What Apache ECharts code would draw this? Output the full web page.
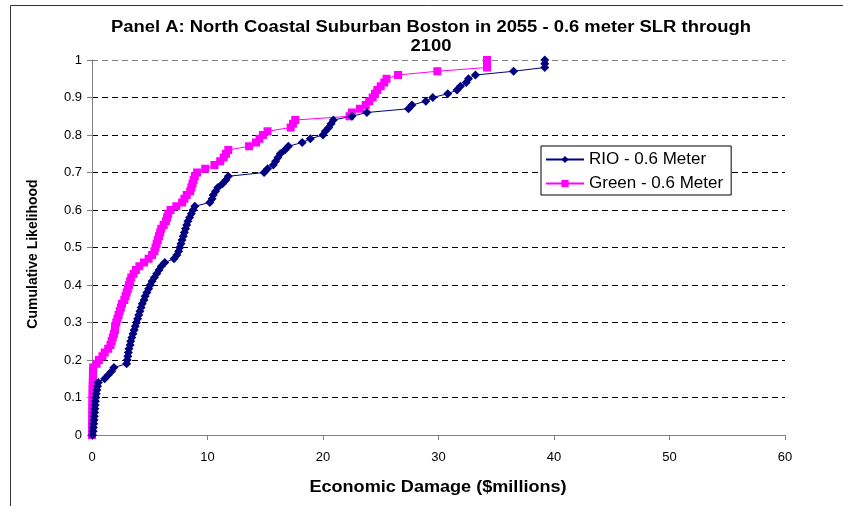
<!DOCTYPE html>
<html>
<head>
<meta charset="utf-8">
<script src="https://cdn.jsdelivr.net/npm/echarts@6/dist/echarts.min.js"></script>
<style>
html,body{margin:0;padding:0;background:#fff;}
#chart{width:843px;height:506px;}
</style>
</head>
<body>
<div id="chart"></div>
<script>
// Cumulative likelihood levels (shared by both series)
var likelihood = [0.00,0.01,0.02,0.03,0.04,0.05,0.06,0.07,0.08,0.09,
  0.10,0.11,0.12,0.13,0.14,0.15,0.16,0.17,0.18,0.19,
  0.20,0.21,0.22,0.23,0.24,0.25,0.26,0.27,0.28,0.29,
  0.30,0.31,0.32,0.33,0.34,0.35,0.36,0.37,0.38,0.39,
  0.40,0.41,0.42,0.43,0.44,0.45,0.46,0.47,0.48,0.49,
  0.50,0.51,0.52,0.53,0.54,0.55,0.56,0.57,0.58,0.59,
  0.60,0.61,0.62,0.63,0.64,0.65,0.66,0.67,0.68,0.69,
  0.70,0.71,0.72,0.73,0.74,0.75,0.76,0.77,0.78,0.79,
  0.80,0.81,0.82,0.83,0.84,0.85,0.86,0.87,0.88,0.89,
  0.90,0.91,0.92,0.93,0.94,0.95,0.96,0.97,0.98,0.99,1.00];

// Economic damage ($millions), RIO - 0.6 Meter
var rioDamage = [0.05,0.1,0.12,0.15,0.18,0.2,0.22,0.25,0.27,0.3,
  0.33,0.37,0.42,0.48,0.55,1.1,1.4,1.7,1.9,3.0,
  3.05,3.1,3.15,3.2,3.3,3.35,3.45,3.55,3.65,3.75,
  3.85,3.95,4.05,4.15,4.25,4.35,4.5,4.6,4.75,4.9,
  5.05,5.2,5.4,5.6,5.8,6.0,6.3,7.1,7.35,7.5,
  7.6,7.7,7.8,7.9,8.0,8.1,8.2,8.3,8.45,8.6,
  8.75,8.9,10.2,10.4,10.5,10.7,10.9,11.3,11.6,11.8,
  14.9,15.2,15.7,15.9,16.1,16.3,16.7,17.0,18.2,18.9,
  20.0,20.2,20.5,20.7,20.9,22.5,23.8,27.4,27.7,28.9,
  29.5,30.8,31.6,31.9,32.4,32.6,33.2,36.5,39.2,39.2,39.2];

// Economic damage ($millions), Green - 0.6 Meter
var greenDamage = [0.0,0.0,0.01,0.01,0.02,0.02,0.03,0.03,0.04,0.04,
  0.05,0.05,0.06,0.06,0.07,0.08,0.08,0.09,0.1,0.4,
  0.6,0.9,1.1,1.4,1.6,1.7,1.8,1.9,2.0,2.0,
  2.1,2.2,2.3,2.4,2.5,2.6,2.8,2.9,3.0,3.1,
  3.2,3.3,3.4,3.6,3.8,4.1,4.5,4.9,5.2,5.4,
  5.5,5.6,5.7,5.8,5.9,6.0,6.2,6.4,6.5,6.6,
  6.8,7.3,7.8,8.0,8.2,8.5,8.6,8.7,8.8,8.9,
  9.1,9.8,10.6,11.1,11.4,11.6,11.8,13.6,14.2,14.5,
  14.8,15.2,17.2,17.4,17.6,22.3,22.5,23.2,23.7,24.0,
  24.3,24.5,24.7,25.0,25.3,25.5,26.5,29.9,34.2,34.2,34.2];

var seriesNames = ['RIO - 0.6 Meter', 'Green - 0.6 Meter'];
var titleLines = ['Panel A: North Coastal Suburban Boston in 2055 - 0.6 meter SLR through', '2100'];
var xAxisTitle = 'Economic Damage ($millions)';
var yAxisTitle = 'Cumulative Likelihood';

function pairs(xs, ys) {
  var out = [];
  for (var i = 0; i < xs.length; i++) out.push([xs[i], ys[i]]);
  return out;
}

var FONT = '"Liberation Sans", Arial, sans-serif';
var chart = echarts.init(document.getElementById('chart'), null, {renderer: 'canvas'});
var gridColors = ['#000','#000','#000','#000','#000','#000','#000','#000','#000','#000','#808080'];

function label(text, x, y, size, sx, rot) {
  return {
    type: 'text', x: x, y: y, scaleX: sx, rotation: rot || 0, z: 10,
    style: {
      text: text, font: 'bold ' + size + 'px ' + FONT, fill: '#000',
      textAlign: 'center', textVerticalAlign: 'middle'
    }
  };
}

chart.setOption({
  animation: false,
  backgroundColor: '#fff',
  graphic: [{
    type: 'rect', left: 8, top: 3, z: -1,
    shape: {width: 900, height: 600},
    style: {fill: 'none', stroke: '#333', lineWidth: 1}
  },
  label(titleLines[0], 431, 28, 16, 1.15),
  label(titleLines[1], 431, 47, 16, 1.15),
  label(xAxisTitle, 438, 488, 16, 1.13),
  label(yAxisTitle, 33, 254, 14, 1, Math.PI / 2)
  ],
  grid: {left: 92, right: 58, top: 60, bottom: 71, containLabel: false},
  legend: {
    left: 541, top: 146, orient: 'vertical',
    data: seriesNames,
    borderColor: '#000', borderWidth: 1, backgroundColor: '#fff',
    padding: [5, 8, 3, 4], itemGap: 7,
    itemWidth: 38, itemHeight: 9,
    textStyle: {fontFamily: FONT, fontSize: 17, color: '#000'}
  },
  xAxis: {
    type: 'value', min: 0, max: 60, interval: 10,
    axisLine: {lineStyle: {color: '#808080', width: 1}},
    axisTick: {show: true, length: 5, lineStyle: {color: '#808080'}},
    axisLabel: {fontFamily: FONT, fontSize: 13, color: '#000', margin: 16},
    splitLine: {show: false}
  },
  yAxis: {
    type: 'value', min: 0, max: 1, interval: 0.1,
    axisLine: {show: true, lineStyle: {color: '#808080', width: 1}},
    axisTick: {show: true, length: 5, lineStyle: {color: '#808080'}},
    axisLabel: {fontFamily: FONT, fontSize: 13, color: '#000', margin: 10},
    splitLine: {show: true, lineStyle: {color: gridColors, type: [6, 4], width: 1}}
  },
  series: [{
    name: seriesNames[0], type: 'line',
    data: pairs(rioDamage, likelihood),
    symbol: 'diamond', symbolSize: 9,
    itemStyle: {color: '#000080'},
    lineStyle: {color: '#000080', width: 1},
    z: 3
  }, {
    name: seriesNames[1], type: 'line',
    data: pairs(greenDamage, likelihood),
    symbol: 'rect', symbolSize: 8,
    itemStyle: {color: '#FF00FF'},
    lineStyle: {color: '#FF00FF', width: 1},
    z: 2
  }]
});
</script>
</body>
</html>
